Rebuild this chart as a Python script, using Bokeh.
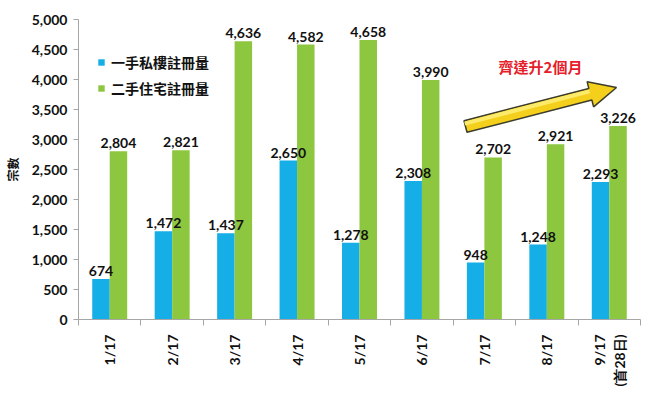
import numpy as np
from bokeh.plotting import figure
from bokeh.models import Range1d, FixedTicker, Legend, LegendItem, ColumnDataSource
from bokeh.core.properties import value
from bokeh.embed import file_html
from bokeh.resources import INLINE

# ---- data ----
months = ["1/17", "2/17", "3/17", "4/17", "5/17", "6/17", "7/17", "8/17", "9/17\n(首28日)"]
primary = [674, 1472, 1437, 2650, 1278, 2308, 948, 1248, 2293]
secondary = [2804, 2821, 4636, 4582, 4658, 3990, 2702, 2921, 3226]
y_ticks = list(range(0, 5001, 500))
series_names = ["一手私樓註冊量", "二手住宅註冊量"]
blue = "#15AEE6"
green = "#8DC63F"

LFONT = "Lato"
CJK = "Noto Sans CJK TC"

n = len(months)
centers = np.arange(n) + 0.5
bw = 0.28

p = figure(width=644, height=391, output_backend="svg", toolbar_location=None,
           x_range=Range1d(0, n), y_range=Range1d(0, 5000),
           min_border_left=78, min_border_right=4, min_border_top=19, min_border_bottom=72)
p.outline_line_color = None
p.xgrid.visible = False
p.ygrid.visible = False

src_b = ColumnDataSource(dict(x=centers - 0.14, top=primary, lab=[f"{v:,}" for v in primary]))
src_g = ColumnDataSource(dict(x=centers + 0.14, top=secondary, lab=[f"{v:,}" for v in secondary]))
rb = p.vbar(x="x", top="top", width=bw, bottom=0, source=src_b, fill_color=blue, line_color=None)
rg = p.vbar(x="x", top="top", width=bw, bottom=0, source=src_g, fill_color=green, line_color=None)

for s in (src_b, src_g):
    p.text(x="x", y="top", text="lab", source=s, text_align="center", text_baseline="bottom",
           y_offset=-3, text_font=value(LFONT), text_font_style="bold",
           text_font_size="14px", text_color="#111111")

# axes
xa = p.xaxis[0]
xa.ticker = FixedTicker(ticks=list(centers), minor_ticks=list(range(0, n + 1)))
xa.major_label_overrides = {float(c): m for c, m in zip(centers, months)}
xa.major_tick_out = 0
xa.major_tick_in = 0
xa.minor_tick_out = 6
xa.minor_tick_in = 0
xa.minor_tick_line_color = "#A6A6A6"
xa.axis_line_color = "#A6A6A6"
xa.major_label_orientation = np.pi / 2
xa.major_label_text_font = LFONT
xa.major_label_text_font_style = "bold"
xa.major_label_text_font_size = "14px"
xa.major_label_text_color = "#111111"
xa.major_label_standoff = 9

ya = p.yaxis[0]
ya.ticker = FixedTicker(ticks=y_ticks)
ya.major_label_overrides = {t: f"{t:,}" for t in y_ticks}
ya.minor_tick_line_color = None
ya.major_tick_out = 5
ya.major_tick_in = 0
ya.major_tick_line_color = "#A6A6A6"
ya.axis_line_color = "#A6A6A6"
ya.major_label_text_font = LFONT
ya.major_label_text_font_style = "bold"
ya.major_label_text_font_size = "14px"
ya.major_label_text_color = "#111111"
ya.major_label_standoff = 6
ya.axis_label = "宗數"
ya.axis_label_text_font = CJK
ya.axis_label_text_font_style = "bold"
ya.axis_label_text_font_size = "12px"
ya.axis_label_text_color = "#111111"
ya.axis_label_standoff = 8

# legend
legend = Legend(items=[LegendItem(label=series_names[0], renderers=[rb]),
                       LegendItem(label=series_names[1], renderers=[rg])],
                location=(19, 221), padding=0, margin=0, spacing=6,
                glyph_width=8, glyph_height=8, label_height=20, label_standoff=6,
                border_line_color=None, background_fill_alpha=0,
                label_text_font=CJK, label_text_font_style="bold",
                label_text_font_size="14px", label_text_color="#111111")
p.add_layout(legend)

# ---- annotation: arrow + red text (pixel geometry converted to data units) ----
def px2data(px, py):
    return (px - 78) / (562 / n), (319 - py) / 0.06

tail = np.array([465.0, 126.0])
tip = np.array([616.0, 87.0])
d = tip - tail
L = np.hypot(*d)
u = d / L
nrm = np.array([u[1], -u[0]])
sw, hl, hw = 6.0, 27.0, 13.0
base = tip - u * hl
pts = [tail + nrm * sw, base + nrm * sw, base + nrm * hw, tip,
       base - nrm * hw, base - nrm * sw, tail - nrm * sw]
xs, ys = zip(*[px2data(*pt) for pt in pts])
p.patch(list(xs), list(ys), fill_color="#F4CF1C", line_color="#3C3C2C", line_width=1.5)
pts2 = [tail + nrm * 1, base + nrm * 1, base + nrm * 5, tail + nrm * 5]
xs2, ys2 = zip(*[px2data(*pt) for pt in pts2])
p.patch(list(xs2), list(ys2), fill_color="#FCEB6A", line_color=None)

tx, ty = px2data(540, 66)
p.text(x=[tx], y=[ty], text=["齊達升2個月"], text_align="center", text_baseline="middle",
       text_font=value(CJK), text_font_style="bold", text_font_size="15px", text_color="#E5202A")

open("out.html", "w").write(file_html(p, INLINE))
